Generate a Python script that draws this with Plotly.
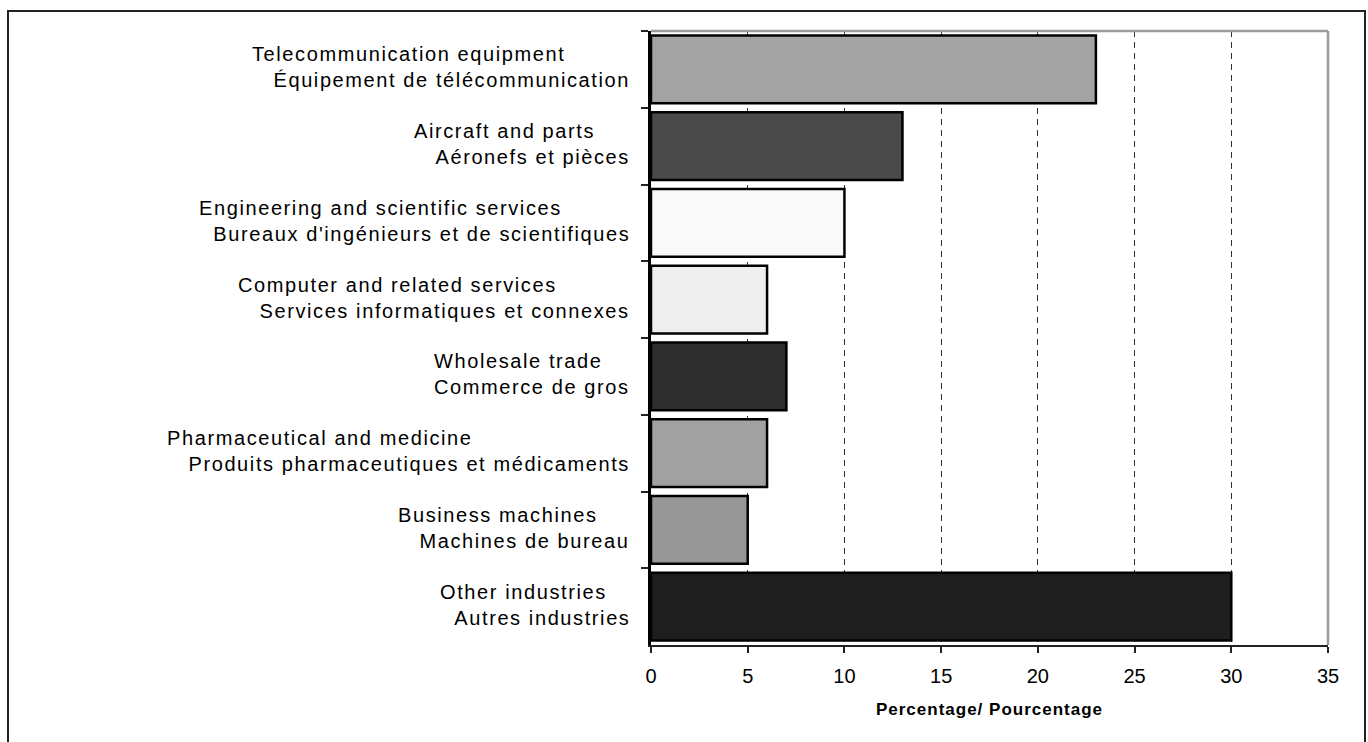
import plotly.graph_objects as go

# ---- data ----
categories_en = [
    "Telecommunication equipment",
    "Aircraft and parts",
    "Engineering and scientific services",
    "Computer and related services",
    "Wholesale trade",
    "Pharmaceutical and medicine",
    "Business machines",
    "Other industries",
]
categories_fr = [
    "Équipement de télécommunication",
    "Aéronefs et pièces",
    "Bureaux d'ingénieurs et de scientifiques",
    "Services informatiques et connexes",
    "Commerce de gros",
    "Produits pharmaceutiques et médicaments",
    "Machines de bureau",
    "Autres industries",
]
values = [23, 13, 10, 6, 7, 6, 5, 30]
x_ticks = [0, 5, 10, 15, 20, 25, 30, 35]

# ---- style ----
bar_colors = ["#a3a3a3", "#4a4a4a", "#f9f9f9", "#eeeeee",
              "#2e2e2e", "#a1a1a1", "#979797", "#1e1e1e"]
indent = [3, 3, 2, 3, 0, 3, 3, 2]
NB = "\u00a0"
FONT = "Arial, Liberation Sans, sans-serif"

W, H = 1368, 742
L, R, T, B = 651, 40, 31, 97
pw, ph = W - L - R, H - T - B

fig = go.Figure()
fig.add_trace(go.Bar(
    y=categories_en, x=values, orientation="h",
    marker=dict(color=bar_colors, line=dict(color="#000000", width=2.5)),
    hoverinfo="x+y", showlegend=False,
))

annotations = []
for en, fr, ind in zip(categories_en, categories_fr, indent):
    txt = (f"<span style='letter-spacing:1.6px'>{en}<br>"
           f"{NB * ind}{fr}</span>")
    annotations.append(dict(
        x=0, xref="paper", y=en, yref="y", xanchor="right", yanchor="middle",
        xshift=-19, yshift=2, align="left", showarrow=False, text=txt,
        font=dict(family=FONT, size=20, color="#000000"),
    ))

def px2x(px):
    return (px - L) / pw

def py2y(py):
    return (H - B - py) / ph

shapes = [
    # plot area top / right gray border
    dict(type="line", xref="paper", yref="paper", x0=0, x1=1, y0=1, y1=1,
         line=dict(color="#9a9a9a", width=2.5)),
    dict(type="line", xref="paper", yref="paper", x0=1, x1=1, y0=0, y1=1,
         line=dict(color="#9a9a9a", width=2.5)),
    # outer frame
    dict(type="rect", xref="paper", yref="paper",
         x0=px2x(8), x1=px2x(1365), y0=py2y(760), y1=py2y(11),
         line=dict(color="#222222", width=2), fillcolor="rgba(0,0,0,0)",
         layer="below"),
]

fig.update_layout(
    width=W, height=H,
    margin=dict(l=L, r=R, t=T, b=B, pad=0),
    paper_bgcolor="#ffffff", plot_bgcolor="#ffffff",
    bargap=0.12,
    font=dict(family=FONT, color="#000000"),
    annotations=annotations,
    shapes=shapes,
    xaxis=dict(
        range=[0, 35], tickvals=x_ticks, ticktext=[str(v) for v in x_ticks],
        showgrid=True, gridcolor="#333333", gridwidth=1, griddash="6px,5px",
        zeroline=False, showline=True, linecolor="#222222", linewidth=2,
        ticks="outside", ticklen=6, tickcolor="#222222", tickwidth=1.5,
        ticklabelstandoff=6,
        tickfont=dict(family=FONT, size=20, color="#000000"),
        title=dict(text="<b><span style='letter-spacing:1px'>Percentage/ Pourcentage</span></b>",
                   standoff=17,
                   font=dict(family=FONT, size=17, color="#000000")),
    ),
    yaxis=dict(
        type="category", autorange="reversed", tickson="boundaries",
        showticklabels=False, ticks="outside", ticklen=7,
        tickcolor="#222222", tickwidth=1.5,
        showline=True, linecolor="#000000", linewidth=2.5,
        showgrid=False, zeroline=False,
    ),
)

fig.write_html(
    "out.html",
    config={"displayModeBar": False},
    post_script="document.body.style.margin='0';document.body.style.overflow='hidden';",
)
